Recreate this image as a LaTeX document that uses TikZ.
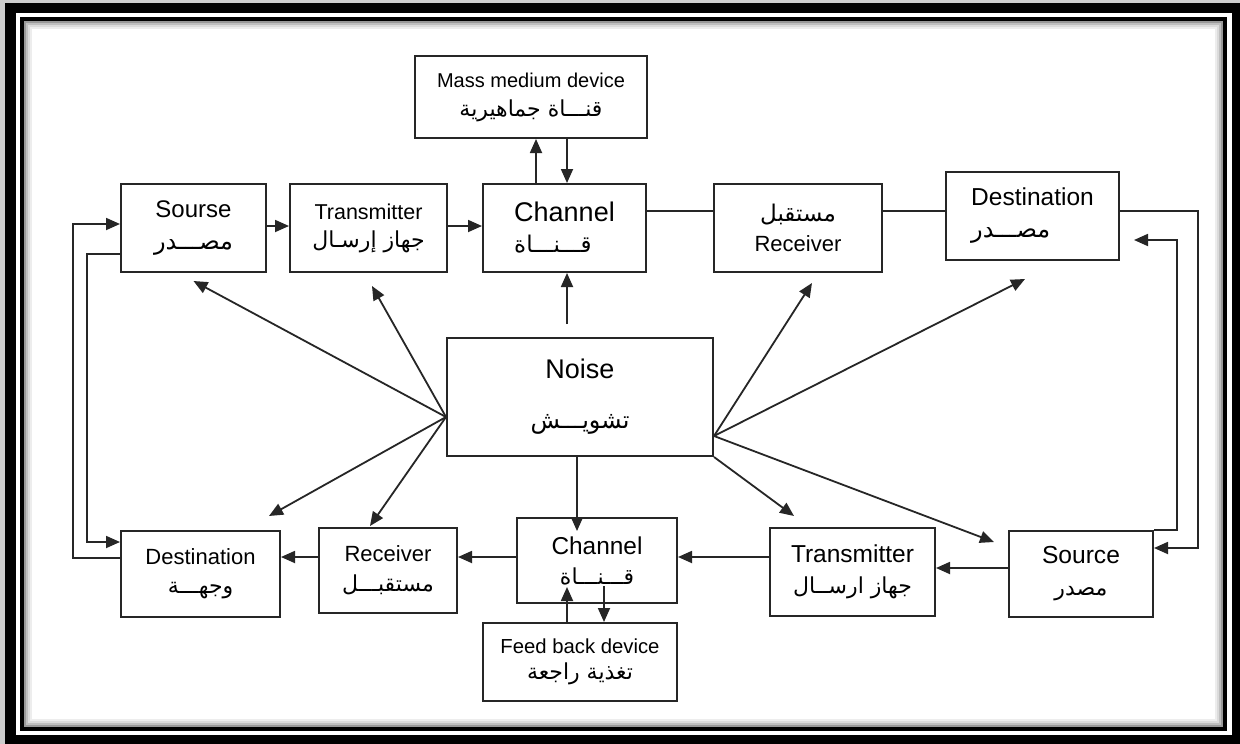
\documentclass[tikz,border=0pt]{standalone}
\usepackage{fontspec}
\setmainfont{Liberation Sans}
\newfontfamily\arabicfont[Script=Arabic]{DejaVu Sans}
\TeXXeTstate=1
\usetikzlibrary{arrows.meta,calc}
\newcommand{\artext}[2][22]{{\arabicfont\fontsize{#1}{#1}\selectfont\beginR #2\endR}}
\tikzset{
	box/.style={draw=black!85, line width=2pt, inner sep=0pt, align=center, font=\fontsize{22}{26}\selectfont},
	arr/.style={-{Triangle[length=14pt,width=12pt]}, line width=1.8pt, draw=black!85},
	wire/.style={line width=1.8pt, draw=black!85}
}
\begin{document}
\begin{tikzpicture}[x=1pt,y=-1pt]
	 \useasboundingbox (0,0) rectangle (1240,744);
	 %Frame
	 \fill[black!20] (0,0) rectangle (1240,744);
	 \fill[black] (5,3) rectangle (1240,744);
	 \fill[white] (16,13) rectangle (1232,735);
	 \foreach \g/\d in {40/3,25/5,14/7,7/9}
	 	\draw[black!\g, line width=2pt] (22+\d,19+\d) rectangle (1225-\d,728.5-\d);
	 \draw[line width=4pt] (22,19) rectangle (1225,728.5);
	 
	 %Top row
	 \node[box, minimum width=232pt, minimum height=82pt, font=\fontsize{20}{24}\selectfont] (mass) at (531,97) {Mass medium device\\[5pt]\artext{قنـــاة جماهيرية}};
	 \node[box, minimum width=145pt, minimum height=88pt, font=\fontsize{24}{28}\selectfont] (src1) at (193.5,228) {Sourse\\[4pt]\artext[24]{مصـــدر}};
	 \node[box, minimum width=157pt, minimum height=88pt, font=\fontsize{21.5}{26}\selectfont] (tr1) at (368.5,228) {Transmitter\\[2pt]\artext{جهاز إرسـال}};
	 \node[box, minimum width=163pt, minimum height=88pt, align=left, font=\fontsize{27}{31}\selectfont] (ch1) at (564.5,228) {Channel\\\artext[23]{قـــنـــاة}};
	 \node[box, minimum width=168pt, minimum height=88pt, font=\fontsize{22}{26}\selectfont] (rc1) at (798,228) {\artext[23]{مستقبل}\\[4pt]Receiver};
	 \node[box, minimum width=173pt, minimum height=88pt, align=left, font=\fontsize{24.5}{28}\selectfont] (ds1) at (1032.5,216) {Destination\\[4pt]\artext[24]{مصـــدر}};
	 
	 %Noise
	 \node[box, minimum width=266pt, minimum height=118pt, font=\fontsize{27}{30}\selectfont] (noise) at (580,397) {Noise\\[20pt]\artext[24]{تشويـــش}};
	 
	 %Bottom row
	 \node[box, minimum width=159pt, minimum height=86pt, font=\fontsize{22}{26}\selectfont] (ds2) at (200.5,574) {Destination\\[3pt]\artext{وجهـــة}};
	 \node[box, minimum width=138pt, minimum height=85pt, font=\fontsize{22}{26}\selectfont] (rc2) at (388,570.5) {Receiver\\[4pt]\artext{مستقبـــل}};
	 \node[box, minimum width=160pt, minimum height=85pt, font=\fontsize{24.4}{28}\selectfont] (ch2) at (597,560.5) {Channel\\[2pt]\artext{قـــنـــاة}};
	 \node[box, minimum width=194pt, minimum height=78pt, font=\fontsize{20.3}{24}\selectfont] (fb) at (580,662) {Feed back device\\[2pt]\artext{تغذية راجعة}};
	 \node[box, minimum width=165pt, minimum height=88pt, font=\fontsize{24.5}{28}\selectfont] (tr2) at (852.5,572) {Transmitter\\[3pt]\artext{جهاز ارســال}};
	 \node[box, minimum width=144pt, minimum height=86pt, font=\fontsize{24.6}{28}\selectfont] (so2) at (1081,574) {Source\\[4pt]\artext{مصدر}};
	 
	 %Mass medium links
	 \draw[arr] ([xshift=-28.5pt]ch1.north) -- ([xshift=-28.5pt]ch1.north |- mass.south);
	 \draw[arr] ([xshift=2.5pt]ch1.north |- mass.south) -- ([xshift=2.5pt]ch1.north);
	 
	 %Top row links
	 \draw[arr] ([yshift=2pt]src1.east) -- ([yshift=2pt]src1.east -| tr1.west);
	 \draw[arr] ([yshift=2pt]tr1.east) -- ([yshift=2pt]tr1.east -| ch1.west);
	 \draw[wire] ([yshift=17pt]ch1.east) -- ([yshift=17pt]ch1.east -| rc1.west);
	 \draw[wire] ([yshift=5pt]ds1.west -| rc1.east) -- ([yshift=5pt]ds1.west);
	 
	 %Right loop
	 \coordinate (r1) at (1198,211);
	 \coordinate (r2) at (1177,240);
	 \draw[arr] ([yshift=5pt]ds1.east) -- (r1) |- ([yshift=26pt]so2.east);
	 \draw[arr] (so2.north east) -| (r2) -- ([xshift=14pt,yshift=-24pt]ds1.east);
	 
	 %Left loop
	 \coordinate (l1) at (73,224);
	 \coordinate (l2) at (87,542);
	 \draw[arr] ([yshift=16pt]ds2.west) -| (l1) -- ([yshift=4pt]src1.west);
	 \draw[arr] ([yshift=-26pt]src1.west) -| (l2) -- ([yshift=32pt]ds2.west);
	 
	 %Bottom row links
	 \draw[arr] ([yshift=6pt]so2.west) -- ([yshift=6pt]so2.west -| tr2.east);
	 \draw[arr] ([yshift=3.5pt]tr2.west |- ch2.east) -- ([yshift=3.5pt]ch2.east);
	 \draw[arr] ([yshift=3.5pt]ch2.west) -- ([yshift=3.5pt]ch2.west -| rc2.east);
	 \draw[arr] ([yshift=3.5pt]rc2.west |- ch2.west) -- ([yshift=3.5pt]ch2.west -| ds2.east);
	 
	 %Feed back links
	 \draw[arr] ([xshift=-13pt]fb.north) -- ++(0,-35);
	 \draw[arr] ([xshift=24pt,yshift=36pt]fb.north) -- ([xshift=24pt]fb.north);
	 
	 %Noise links
	 \draw[arr] ([xshift=-13pt,yshift=13pt]noise.north) -- ([xshift=-13pt]noise.north |- ch1.south);
	 \draw[arr] ([xshift=-3pt]noise.south) -- ++(0,74);
	 \coordinate (nl) at ([yshift=-20pt]noise.west);
	 \coordinate (nr) at ([yshift=-39pt]noise.east);
	 \draw[arr] (nl) -- ([yshift=-8pt]src1.south);
	 \draw[arr] (nl) -- ([xshift=3.5pt,yshift=-13pt]tr1.south);
	 \draw[arr] (nl) -- ([xshift=-12pt,yshift=14pt]ds2.north east);
	 \draw[arr] (nl) -- ([xshift=-18pt,yshift=1pt]rc2.north);
	 \draw[arr] (nr) -- ([xshift=14pt,yshift=-10pt]rc1.south);
	 \draw[arr] (nr) -- ([xshift=-7.5pt,yshift=-18pt]ds1.south);
	 \draw[arr] (nr) -- ([xshift=-14pt,yshift=-12pt]so2.north west);
	 \draw[arr] (noise.south east) -- ([xshift=25pt,yshift=11pt]tr2.north west);
\end{tikzpicture}
\end{document}
